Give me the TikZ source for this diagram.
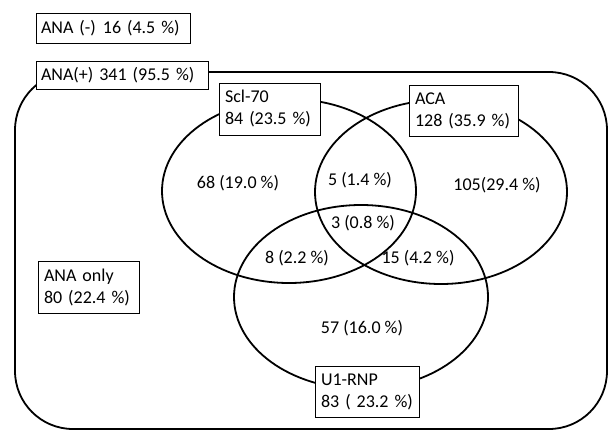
\documentclass[tikz,border=0pt]{standalone}
\usepackage{fontspec}
\setmainfont{Carlito}
\begin{document}
\begin{tikzpicture}[x=1pt,y=-1pt,
  lbl/.style={font=\fontsize{18}{22}\selectfont, inner sep=0pt},
  box/.style={draw, fill=white, line width=0.9pt, font=\fontsize{18}{22}\selectfont,
    anchor=north west, align=left, inner xsep=6pt, inner ysep=3pt, outer sep=0pt},
  venn/.style={line width=1.8pt}]
\useasboundingbox (0,0) rectangle (609,430);
% ANA(+) universe
\draw[venn, rounded corners=58] (15,72) rectangle (607,429);
% three sets
\draw[venn] (289,191) ellipse [x radius=127, y radius=92];
\draw[venn] (441,192) ellipse [x radius=126, y radius=92];
\draw[venn] (361,297) ellipse [x radius=127, y radius=92];
% boxes
\node[box, inner xsep=5pt, text width=144, minimum height=30] (neg) at (36,13) {\mbox{ANA (-)\hspace{7pt}16 (4.5 \%)}};
\node[box, inner xsep=5pt, text width=162, minimum height=28] (pos) at (36,61) {\mbox{ANA(+)\hspace{6pt}341 (95.5 \%)}};
\node[box, text width=89, minimum height=52] (scl) at (219,83) {Scl-70\\84 (23.5 \%)};
\node[box, text width=97, minimum height=51] (aca) at (409,85) {ACA\\128 (35.9 \%)};
\node[box, text width=92, minimum height=51] (rnp) at (315,366) {U1-RNP\\83 ( 23.2 \%)};
\node[box, text width=89, minimum height=52] (only) at (38,261) {ANA only\\80 (22.4 \%)};
% region counts
\node[lbl] (s) at (238,183) {68 (19.0 \%)};
\node[lbl] (sa) at (360,180) {5 (1.4 \%)};
\node[lbl] (a) at (497,185) {105(29.4 \%)};
\node[lbl] (sar) at (363,223) {3 (0.8 \%)};
\node[lbl] (sr) at (297,258) {8 (2.2 \%)};
\node[lbl] (ar) at (418,258) {15 (4.2 \%)};
\node[lbl] (r) at (362,328) {57 (16.0 \%)};
\end{tikzpicture}
\end{document}
